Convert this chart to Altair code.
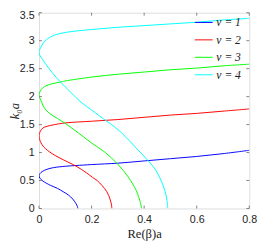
import altair as alt
import pandas as pd

# nu = 1 (blue)
b_lo_x = [0.0, 0.004, 0.015, 0.043, 0.07, 0.092, 0.112, 0.128, 0.141, 0.146, 0.148]
b_lo_y = [0.585, 0.54, 0.49, 0.415, 0.36, 0.30, 0.24, 0.17, 0.085, 0.035, 0.0]
b_up_x = [0.0, 0.004, 0.012, 0.03, 0.055, 0.1, 0.141, 0.2, 0.3, 0.4, 0.5, 0.6, 0.7, 0.8]
b_up_y = [0.585, 0.625, 0.66, 0.70, 0.73, 0.755, 0.768, 0.785, 0.81, 0.85, 0.89, 0.93, 0.98, 1.04]

# nu = 2 (red)
r_lo_x = [0.0, 0.005, 0.018, 0.05, 0.08, 0.141, 0.18, 0.203, 0.221, 0.24, 0.258, 0.27, 0.276, 0.277]
r_lo_y = [1.30, 1.20, 1.10, 0.98, 0.90, 0.756, 0.64, 0.558, 0.50, 0.41, 0.30, 0.17, 0.06, 0.0]
r_up_x = [0.0, 0.005, 0.015, 0.031, 0.06, 0.1, 0.2, 0.3, 0.4, 0.5, 0.6, 0.7, 0.8]
r_up_y = [1.30, 1.38, 1.44, 1.47, 1.50, 1.53, 1.56, 1.59, 1.63, 1.67, 1.70, 1.74, 1.78]

# nu = 3 (green)
g_lo_x = [0.0, 0.01, 0.02, 0.04, 0.07, 0.1, 0.15, 0.2, 0.25, 0.3, 0.34, 0.37, 0.385, 0.39]
g_lo_y = [2.035, 1.90, 1.80, 1.70, 1.61, 1.52, 1.35, 1.17, 1.01, 0.79, 0.56, 0.32, 0.12, 0.0]
g_up_x = [0.0, 0.005, 0.015, 0.03, 0.05, 0.08, 0.1, 0.2, 0.3, 0.4, 0.5, 0.6, 0.7, 0.8]
g_up_y = [2.035, 2.10, 2.16, 2.20, 2.23, 2.26, 2.28, 2.35, 2.40, 2.44, 2.48, 2.51, 2.55, 2.58]

# nu = 4 (cyan)
c_lo_x = [0.0, 0.02, 0.05, 0.08, 0.12, 0.16, 0.2, 0.24, 0.276, 0.31, 0.344, 0.38, 0.418, 0.445, 0.467, 0.48, 0.487, 0.49]
c_lo_y = [2.78, 2.62, 2.43, 2.27, 2.08, 1.90, 1.76, 1.62, 1.50, 1.37, 1.21, 1.03, 0.84, 0.68, 0.47, 0.30, 0.14, 0.0]
c_up_x = [0.0, 0.005, 0.015, 0.031, 0.06, 0.104, 0.2, 0.3, 0.4, 0.5, 0.6, 0.7, 0.8]
c_up_y = [2.78, 2.86, 2.95, 3.03, 3.10, 3.15, 3.20, 3.24, 3.27, 3.30, 3.33, 3.37, 3.40]

series = ["ν = 1", "ν = 2", "ν = 3", "ν = 4"]
colors = ["#0000ff", "#ff0000", "#00ff00", "#00ffff"]
x_ticks = [0, 0.2, 0.4, 0.6, 0.8]
y_ticks = [0, 0.5, 1, 1.5, 2, 2.5, 3, 3.5]

curves = [
    (b_lo_x, b_lo_y, b_up_x, b_up_y),
    (r_lo_x, r_lo_y, r_up_x, r_up_y),
    (g_lo_x, g_lo_y, g_up_x, g_up_y),
    (c_lo_x, c_lo_y, c_up_x, c_up_y),
]

rows = []
for name, (lx, ly, ux, uy) in zip(series, curves):
    xs = list(reversed(lx)) + ux[1:]
    ys = list(reversed(ly)) + uy[1:]
    for i, (xv, yv) in enumerate(zip(xs, ys)):
        rows.append({"x": xv, "y": yv, "s": name, "o": i})
df = pd.DataFrame(rows)

W, H = 217, 202
TL = 3
GRAY = "#808080"

xscale = alt.Scale(domain=[0, 0.8], nice=False, zero=False)
yscale = alt.Scale(domain=[0, 3.5], nice=False, zero=False)

xaxis = alt.Axis(values=x_ticks, format=".1~f", ticks=False, domain=False, grid=False,
                 labelOverlap=False, labelFlush=False,
                 labelPadding=6, labelFontSize=11, labelFont="Liberation Sans",
                 labelColor="#222222", title="Re(β)a", titleFont="Liberation Serif",
                 titleFontSize=13, titleFontWeight="normal", titleColor="#222222",
                 titlePadding=3)
yaxis = alt.Axis(values=y_ticks, format=".1~f", ticks=False, domain=False, grid=False,
                 labelOverlap=False, labelFlush=False,
                 labelOffset={"condition": {"test": "datum.value == 3.5", "value": 3}, "value": 0},
                 labelPadding=5, labelFontSize=11, labelFont="Liberation Sans",
                 labelColor="#222222", title="k₀a", titleFont="Liberation Serif",
                 titleFontStyle="italic", titleFontSize=13, titleFontWeight="normal",
                 titleColor="#222222", titleX=-25, titleBaseline="middle")

lines = alt.Chart(df).mark_line(strokeWidth=1, interpolate="catmull-rom", clip=True).encode(
    x=alt.X("x:Q", scale=xscale, axis=xaxis),
    y=alt.Y("y:Q", scale=yscale, axis=yaxis),
    color=alt.Color("s:N", scale=alt.Scale(domain=series, range=colors),
                    legend=alt.Legend(title=None, orient="none", legendX=160, legendY=0,
                                      symbolType="stroke", symbolSize=340, symbolStrokeWidth=1,
                                      labelFont="Liberation Serif", labelFontStyle="italic",
                                      labelFontSize=12, labelColor="#222222", rowPadding=2,
                                      labelOffset=3)),
    order="o:Q",
)

xt = pd.DataFrame({"x": x_ticks})
yt = pd.DataFrame({"y": y_ticks})

bx = alt.Chart(xt).mark_rule(color=GRAY, strokeWidth=1).encode(
    x=alt.X("x:Q", scale=xscale, axis=xaxis), y=alt.value(H), y2=alt.value(H - TL))
tx = alt.Chart(xt).mark_rule(color=GRAY, strokeWidth=1).encode(
    x=alt.X("x:Q", scale=xscale, axis=xaxis), y=alt.value(0), y2=alt.value(TL))
ly = alt.Chart(yt).mark_rule(color=GRAY, strokeWidth=1).encode(
    y=alt.Y("y:Q", scale=yscale, axis=yaxis), x=alt.value(0), x2=alt.value(TL))
ry = alt.Chart(yt).mark_rule(color=GRAY, strokeWidth=1).encode(
    y=alt.Y("y:Q", scale=yscale, axis=yaxis), x=alt.value(W), x2=alt.value(W - TL))

chart = alt.layer(lines, bx, tx, ly, ry).properties(
    width=W, height=H,
    autosize=alt.AutoSizeParams(type="none"),
    padding={"left": 32, "top": 1, "right": 9, "bottom": 40},
).configure_view(stroke=GRAY, strokeWidth=1).configure(background="white")

chart.save("out.html", embed_options={"renderer": "svg", "actions": False})
